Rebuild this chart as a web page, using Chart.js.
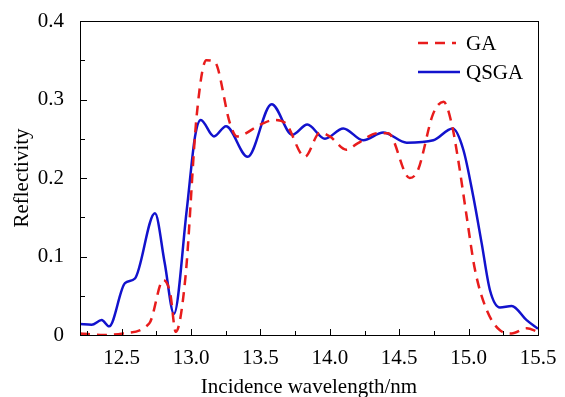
<!DOCTYPE html>
<html lang="en">
<head>
<meta charset="UTF-8">
<title>Reflectivity</title>
<script src="https://cdn.jsdelivr.net/npm/chart.js"></script>
<style>
  html, body { margin: 0; padding: 0; background: #fff; }
  #wrap { width: 565px; height: 397px; }
</style>
</head>
<body>
<div id="wrap"><canvas id="chart" width="565" height="397"></canvas></div>
<script>
// wavelength (nm) / reflectivity
const gaX = [12.2, 12.37, 12.51, 12.70, 12.80, 12.85, 12.89, 12.96, 13.04, 13.11, 13.17, 13.28, 13.33, 13.50, 13.60, 13.68, 13.82, 13.93, 14.0, 14.12, 14.2, 14.345, 14.42, 14.575, 14.635, 14.745, 14.82, 14.877, 14.925, 14.986, 15.046, 15.13, 15.226, 15.31, 15.418, 15.5];
const gaY = [0.002, 0.0, 0.002, 0.015, 0.07, 0.053, 0.004, 0.074, 0.278, 0.35, 0.348, 0.27, 0.253, 0.268, 0.274, 0.27, 0.227, 0.258, 0.253, 0.236, 0.244, 0.257, 0.257, 0.2, 0.21, 0.282, 0.297, 0.27, 0.223, 0.151, 0.083, 0.032, 0.006, 0.002, 0.0085, 0.004];

const qsgaX = [12.2, 12.284, 12.356, 12.41, 12.524, 12.596, 12.74, 12.81, 12.877, 12.969, 13.029, 13.07, 13.165, 13.252, 13.408, 13.581, 13.73, 13.838, 13.965, 14.097, 14.241, 14.385, 14.554, 14.746, 14.885, 14.962, 15.034, 15.094, 15.154, 15.226, 15.31, 15.418, 15.5];
const qsgaY = [0.014, 0.013, 0.019, 0.011, 0.066, 0.072, 0.155, 0.092, 0.027, 0.159, 0.253, 0.274, 0.253, 0.266, 0.227, 0.294, 0.255, 0.268, 0.25, 0.263, 0.248, 0.258, 0.245, 0.248, 0.263, 0.236, 0.176, 0.117, 0.057, 0.035, 0.037, 0.019, 0.008];

const xTicks = [12.5, 13.0, 13.5, 14.0, 14.5, 15.0, 15.5];
const yTicks = [0, 0.1, 0.2, 0.3, 0.4];

const RED = 'rgb(232,28,28)';
const BLUE = 'rgb(18,18,205)';
const FONT = '"Liberation Serif", "Times New Roman", serif';

function pts(xs, ys) { return xs.map((x, i) => ({ x: x, y: ys[i] })); }

// inward ticks, top/right frame and the legend
const framePlugin = {
  id: 'frame',
  afterDraw(chart) {
    const ctx = chart.ctx, a = chart.chartArea;
    const xs = chart.scales.x, ys = chart.scales.y;
    ctx.save();
    ctx.strokeStyle = '#000';
    ctx.lineWidth = 1;
    ctx.strokeRect(a.left + 0.5, a.top + 0.5, a.right - a.left, a.bottom - a.top);
    ctx.beginPath();
    for (let v = 12.25; v < 15.5; v += 0.25) {
      const px = Math.round(xs.getPixelForValue(v)) + 0.5;
      const major = Math.abs(v * 2 - Math.round(v * 2)) < 1e-6;
      const len = major ? 6 : 4;
      ctx.moveTo(px, a.bottom); ctx.lineTo(px, a.bottom - len);
    }
    for (let v = 0.05; v < 0.4; v += 0.05) {
      const py = Math.round(ys.getPixelForValue(v)) + 0.5;
      const major = Math.abs(v * 10 - Math.round(v * 10)) < 1e-6;
      const len = major ? 7 : 5;
      ctx.moveTo(a.left, py); ctx.lineTo(a.left + len, py);
    }
    ctx.stroke();

    // legend
    ctx.font = '21px ' + FONT;
    ctx.fillStyle = '#000';
    ctx.textBaseline = 'middle';
    ctx.lineWidth = 2.5;
    ctx.strokeStyle = RED;
    ctx.setLineDash([10, 7]);
    ctx.beginPath(); ctx.moveTo(418, 43); ctx.lineTo(456, 43); ctx.stroke();
    ctx.strokeStyle = BLUE;
    ctx.setLineDash([]);
    ctx.beginPath(); ctx.moveTo(418, 72); ctx.lineTo(460, 72); ctx.stroke();
    ctx.fillText('GA', 466, 44);
    ctx.fillText('QSGA', 466, 73);
    ctx.restore();
  }
};

new Chart(document.getElementById('chart'), {
  type: 'line',
  data: {
    datasets: [
      { label: 'GA', data: pts(gaX, gaY), borderColor: RED, borderWidth: 2.5, borderDash: [10, 7],
        pointRadius: 0, fill: false, cubicInterpolationMode: 'monotone' },
      { label: 'QSGA', data: pts(qsgaX, qsgaY), borderColor: BLUE, borderWidth: 2.5,
        pointRadius: 0, fill: false, cubicInterpolationMode: 'monotone' }
    ]
  },
  options: {
    responsive: false,
    animation: false,
    layout: { padding: { top: 21, right: 27, left: 0, bottom: 0 } },
    plugins: { legend: { display: false }, tooltip: { enabled: false } },
    scales: {
      x: {
        type: 'linear', min: 12.2, max: 15.5,
        afterBuildTicks: s => { s.ticks = xTicks.map(v => ({ value: v })); },
        afterFit: s => { s.height = 62; },
        grid: { display: false },
        border: { display: true, color: '#000', width: 1 },
        ticks: { color: '#000', padding: 3, maxRotation: 0, font: { family: FONT, size: 21 },
                 callback: v => v.toFixed(1) },
        title: { display: true, text: 'Incidence wavelength/nm', color: '#000',
                 font: { family: FONT, size: 21 }, padding: { top: 0, bottom: -3 } }
      },
      y: {
        min: 0, max: 0.4,
        afterBuildTicks: s => { s.ticks = yTicks.map(v => ({ value: v })); },
        afterFit: s => { s.width = 80; },
        grid: { display: false },
        border: { display: true, color: '#000', width: 1 },
        ticks: { color: '#000', padding: 8, font: { family: FONT, size: 21 },
                 callback: v => (v === 0 ? '0' : v.toFixed(1)) },
        title: { display: true, text: 'Reflectivity', color: '#000',
                 font: { family: FONT, size: 21 }, padding: { top: 10, bottom: 0 } }
      }
    }
  },
  plugins: [framePlugin]
});
</script>
</body>
</html>
